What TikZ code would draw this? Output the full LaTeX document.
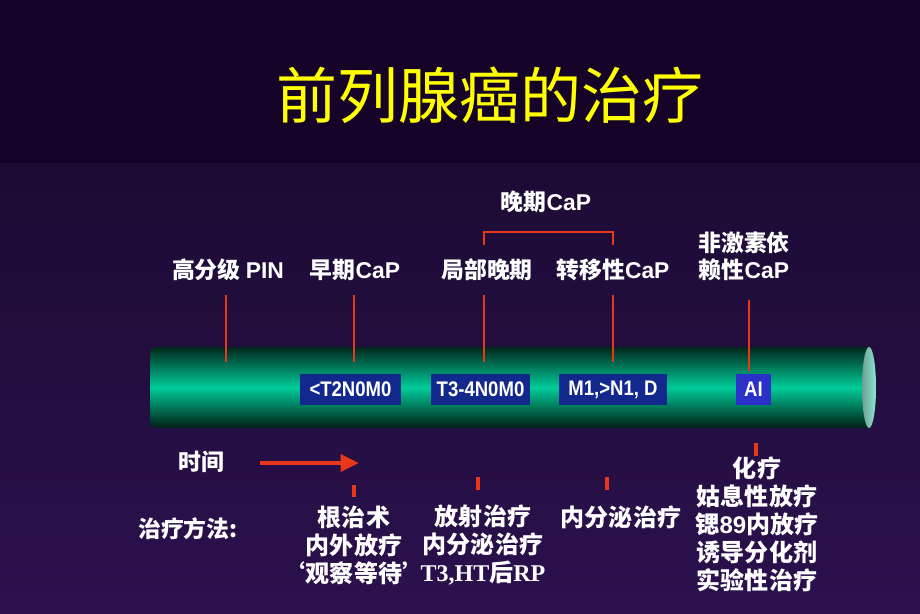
\documentclass[tikz,border=0pt]{standalone}
\usepackage{fontspec}
\setmainfont{Noto Sans CJK SC}
\newfontfamily\latinsans{Liberation Sans}
\newfontfamily\latinserif{Liberation Serif}
\newfontfamily\narrowsans{Liberation Sans}[FakeStretch=0.88]
\usetikzlibrary{arrows.meta,positioning}
\definecolor{bandtop}{HTML}{150428}
\definecolor{bgupper}{HTML}{1D0B34}
\definecolor{bglower}{HTML}{2B114E}
\definecolor{tubedark}{HTML}{00281C}
\definecolor{tubelight}{HTML}{00CC99}
\definecolor{capdark}{HTML}{6E9E94}
\definecolor{caplight}{HTML}{8AE6D0}
\definecolor{boxblue}{HTML}{12288C}
\definecolor{aiblue}{HTML}{2A30C8}
\definecolor{markred}{HTML}{E8381A}
\definecolor{titleyellow}{HTML}{FFFF00}

\begin{document}
\begin{tikzpicture}[x=0.03cm,y=-0.03cm,
    stagelabel/.style={text=white,align=center,inner sep=0pt,
        font=\bfseries\fontsize{19.5}{23}\selectfont},
    treatlabel/.style={text=white,align=center,inner sep=0pt,
        font=\bfseries\fontsize{20.5}{24}\selectfont},
    stagebox/.style={fill=boxblue,text=white,inner sep=0pt,minimum height=0.93cm,
        font=\narrowsans\bfseries\fontsize{18}{20}\selectfont},
    redline/.style={draw=markred,line width=1.8pt},
    redtick/.style={draw=markred,line width=2.6pt}]
    \useasboundingbox (0,0) rectangle (920,613);
    \fill[bandtop] (0,0) rectangle (920,163);
    \shade[top color=bgupper,bottom color=bglower] (0,163) rectangle (920,613);

    \node[text=titleyellow,font=\fontsize{52}{60}\selectfont] (title) at (490,95) {前列腺癌的治疗};

    \shade[top color=tubedark,bottom color=tubedark!70!black,middle color=tubelight]
        (869,347) -- (158,347) .. controls (150,347) and (150,350) .. (150,358)
        -- (150,417) .. controls (150,425) and (150,428) .. (158,428) -- (869,428) -- cycle;
    \shade[left color=capdark,right color=caplight] (869,387.5) ellipse [x radius=7,y radius=40.5];

    \node[stagelabel] (later) at (546,202) {晚期{\latinsans CaP}};
    \node[stagelabel] (pin)   at (228,270) {高分级 {\latinsans PIN}};
    \node[stagelabel] (early) at (355,270) {早期{\latinsans CaP}};
    \node[stagelabel] (local) at (487,270) {局部晚期};
    \node[stagelabel] (meta)  at (613,270) {转移性{\latinsans CaP}};
    \node[stagelabel] (indep) at (744,256.5) {非激素依\\赖性{\latinsans CaP}};

    \coordinate (locBr) at (484,245);
    \coordinate (metBr) at (613,245);
    \draw[redline] (locBr) -- ++(0,-13) -| (metBr);

    \coordinate (pinTop) at (226,295);   \coordinate (pinTube) at (226,362);
    \coordinate (earlyTop) at (354,295); \coordinate (earlyTube) at (354,362);
    \coordinate (localTop) at (484,295); \coordinate (localTube) at (484,362);
    \coordinate (metaTop) at (613,295);  \coordinate (metaTube) at (613,362);
    \coordinate (indepTop) at (749,300); \coordinate (indepTube) at (749,371);
    \draw[redline] (pinTop) -- (pinTube);
    \draw[redline] (earlyTop) -- (earlyTube);
    \draw[redline] (localTop) -- (localTube);
    \draw[redline] (metaTop) -- (metaTube);
    \draw[redline] (indepTop) -- (indepTube);

    \node[stagebox,minimum width=3.03cm] (t2)  at (350.5,389.5) {<T2N0M0};
    \node[stagebox,minimum width=2.97cm] (t34) at (480.5,389.5) {T3-4N0M0};
    \node[stagebox,minimum width=3.24cm] (m1)  at (613,389.5) {M1,>N1, D};
    \node[stagebox,minimum width=1.05cm,fill=aiblue] (ai) at (753.5,389.5) {AI};

    \node[stagelabel] (time) at (201,462) {时间};
    \coordinate (timeStart) at (260,463);
    \coordinate (timeEnd) at (359,463);
    \draw[markred,line width=3.4pt,-{Triangle[length=0.55cm,width=0.5cm]}] (timeStart) -- (timeEnd);

    \node[stagelabel] (method) at (188,529) {治疗方法:};

    \coordinate (earlyTick) at (354,485); \coordinate (earlyTickEnd) at (354,497);
    \coordinate (localTick) at (478,477); \coordinate (localTickEnd) at (478,490);
    \coordinate (metaTick) at (607,477);  \coordinate (metaTickEnd) at (607,490);
    \coordinate (indepTick) at (756,443); \coordinate (indepTickEnd) at (756,456);
    \draw[redtick] (earlyTick) -- (earlyTickEnd);
    \draw[redtick] (localTick) -- (localTickEnd);
    \draw[redtick] (metaTick) -- (metaTickEnd);
    \draw[redtick] (indepTick) -- (indepTickEnd);

    \node[treatlabel] (treatEarly) at (354,545) {根治术\\内外放疗\\‘观察等待’};
    \node[treatlabel] (treatLocal) at (483,545) {放射治疗\\内分泌治疗\\{\latinserif T3,HT}后{\latinserif RP}};
    \node[treatlabel] (treatMeta)  at (621,517) {内分泌治疗};
    \node[treatlabel] (treatIndep) at (757,524.5) {化疗\\姑息性放疗\\锶{\latinsans 89}内放疗\\诱导分化剂\\实验性治疗};
\end{tikzpicture}
\end{document}
